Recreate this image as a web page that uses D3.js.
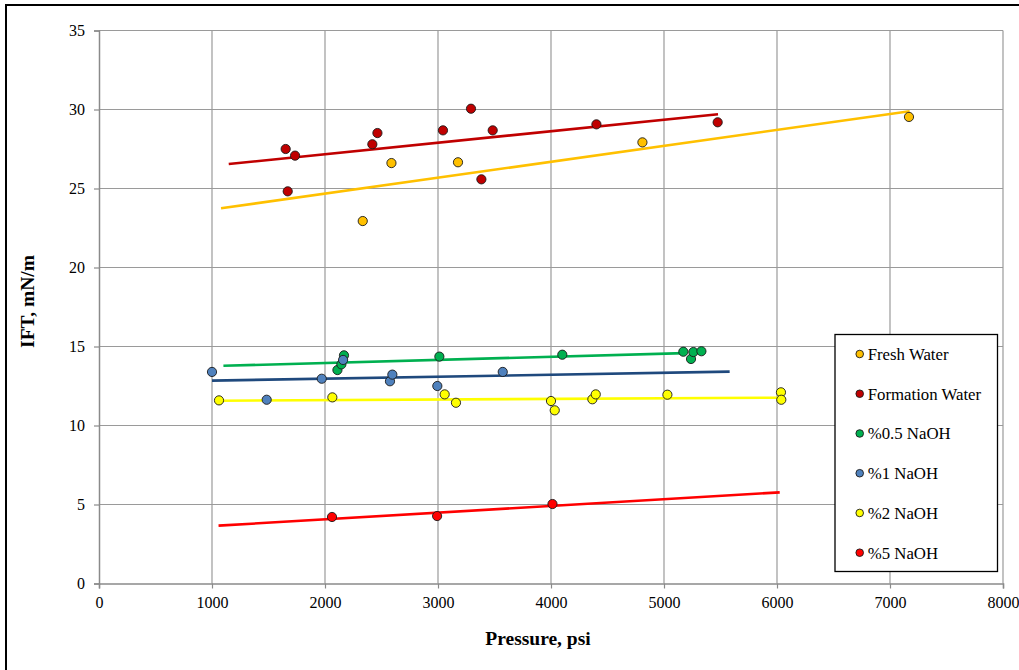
<!DOCTYPE html>
<html>
<head>
<meta charset="utf-8">
<script src="https://cdn.jsdelivr.net/npm/d3@7"></script>
<style>
  html, body { margin: 0; padding: 0; background: #fff; }
  svg { display: block; }
  text { font-family: "Liberation Serif", "Times New Roman", serif; }
</style>
</head>
<body>
<svg id="chart" width="1019" height="670"></svg>
<script>
// Interfacial tension vs pressure for each brine
const seriesNames = ["Fresh Water", "Formation Water", "%0.5 NaOH", "%1 NaOH", "%2 NaOH", "%5 NaOH"];

const freshPsi = [2334, 2588, 3177, 4809, 7168];
const freshIft = [22.94, 26.61, 26.66, 27.92, 29.53];

const formationPsi = [1652, 1670, 1735, 2419, 2464, 3044, 3292, 3384, 3484, 4402, 5475];
const formationIft = [27.50, 24.82, 27.08, 27.80, 28.51, 28.68, 30.05, 25.58, 28.68, 29.06, 29.19];

const naoh05Psi = [2110, 2145, 2168, 3012, 4100, 5171, 5239, 5260, 5331];
const naoh05Ift = [13.51, 13.87, 14.44, 14.36, 14.48, 14.67, 14.21, 14.65, 14.70];

const naoh1Psi = [1000, 1484, 1971, 2160, 2575, 2596, 2994, 3573];
const naoh1Ift = [13.39, 11.63, 12.96, 14.15, 12.80, 13.22, 12.50, 13.39];

const naoh2Psi = [1062, 2065, 3059, 3159, 4000, 4033, 4366, 4396, 5030, 6035, 6038];
const naoh2Ift = [11.59, 11.78, 11.97, 11.44, 11.55, 10.96, 11.66, 11.97, 11.95, 12.10, 11.63];

const naoh5Psi = [2062, 2992, 4013];
const naoh5Ift = [4.21, 4.27, 5.03];

// Linear trend lines: [start, end] pressure and IFT
const trendPsi = [[1080, 7174], [1148, 5478], [1101, 5180], [1000, 5581], [1060, 6040], [1058, 6024]];
const trendIft = [[23.75, 29.89], [26.55, 29.70], [13.78, 14.58], [12.84, 13.41], [11.57, 11.76], [3.66, 5.77]];

const xTicks = [0, 1000, 2000, 3000, 4000, 5000, 6000, 7000, 8000];
const yTicks = [0, 5, 10, 15, 20, 25, 30, 35];

const markerFill = ["#FFC000", "#C00000", "#00B050", "#4F81BD", "#FFFF00", "#FF0000"];
const lineColor  = ["#FFC000", "#C00000", "#00B050", "#1F497D", "#FFFF00", "#FF0000"];

const seriesPsi = [freshPsi, formationPsi, naoh05Psi, naoh1Psi, naoh2Psi, naoh5Psi];
const seriesIft = [freshIft, formationIft, naoh05Ift, naoh1Ift, naoh2Ift, naoh5Ift];

const series = seriesNames.map((name, i) => ({
  name,
  fill: markerFill[i],
  line: lineColor[i],
  points: seriesPsi[i].map((p, j) => ({ x: p, y: seriesIft[i][j] })),
  trend: [{ x: trendPsi[i][0], y: trendIft[i][0] }, { x: trendPsi[i][1], y: trendIft[i][1] }]
}));

const svg = d3.select("#chart");

// outer chart frame
svg.append("rect")
  .attr("x", 6).attr("y", 5)
  .attr("width", 1040).attr("height", 700)
  .attr("fill", "#fff").attr("stroke", "#000").attr("stroke-width", 2);

const plot = { left: 99, right: 1003, top: 30.5, bottom: 583.5 };

const x = d3.scaleLinear().domain([0, 8000]).range([plot.left, plot.right]);
const y = d3.scaleLinear().domain([0, 35]).range([plot.bottom, plot.top]);

// gridlines
const grid = svg.append("g");
grid.selectAll("line.h").data(yTicks.filter(d => d > 0)).join("line")
  .attr("x1", plot.left).attr("x2", plot.right)
  .attr("y1", d => y(d)).attr("y2", d => y(d))
  .attr("stroke", "#9a9a9a").attr("stroke-width", 1.2);
grid.selectAll("line.v").data(xTicks.filter(d => d > 0)).join("line")
  .attr("y1", plot.top).attr("y2", plot.bottom)
  .attr("x1", d => x(d)).attr("x2", d => x(d))
  .attr("stroke", "#9a9a9a").attr("stroke-width", 1.2);

// axes
const xAxis = svg.append("g")
  .attr("transform", `translate(0,${plot.bottom})`)
  .call(d3.axisBottom(x).tickValues(xTicks).tickSize(5).tickPadding(8).tickFormat(d3.format("d")));
const yAxis = svg.append("g")
  .attr("transform", `translate(${plot.left},0)`)
  .call(d3.axisLeft(y).tickValues(yTicks).tickSize(5).tickPadding(9).tickFormat(d3.format("d")));

[xAxis, yAxis].forEach(ax => {
  ax.select(".domain").attr("stroke", "#8a8a8a").attr("stroke-width", 1.5);
  ax.selectAll(".tick line").attr("stroke", "#8a8a8a").attr("stroke-width", 1.2);
  ax.selectAll(".tick text")
    .attr("fill", "#000")
    .style("font-family", "'Liberation Serif', 'Times New Roman', serif")
    .style("font-size", "16px");
});

// trend lines
svg.append("g").selectAll("line").data(series).join("line")
  .attr("x1", d => x(d.trend[0].x)).attr("y1", d => y(d.trend[0].y))
  .attr("x2", d => x(d.trend[1].x)).attr("y2", d => y(d.trend[1].y))
  .attr("stroke", d => d.line).attr("stroke-width", 2.6);

// markers
const pts = svg.append("g");
series.forEach(s => {
  pts.selectAll(null).data(s.points).join("circle")
    .attr("cx", d => x(d.x)).attr("cy", d => y(d.y))
    .attr("r", 4.6)
    .attr("fill", s.fill)
    .attr("stroke", "#1a1a1a").attr("stroke-width", 0.9);
});

// axis titles
svg.append("text")
  .attr("x", 538).attr("y", 645)
  .attr("text-anchor", "middle")
  .style("font-size", "19.5px").style("font-weight", "bold")
  .text("Pressure, psi");

svg.append("text")
  .attr("transform", `translate(34,${301.5}) rotate(-90)`)
  .attr("text-anchor", "middle")
  .style("font-size", "19.5px").style("font-weight", "bold")
  .text("IFT, mN/m");

// legend
const lg = svg.append("g");
lg.append("rect")
  .attr("x", 835).attr("y", 334.5).attr("width", 162.5).attr("height", 237)
  .attr("fill", "#fff").attr("stroke", "#000").attr("stroke-width", 1.3);
const legendY = d3.scalePoint().domain(seriesNames).range([354, 552.7]);
const items = lg.selectAll("g.item").data(series).join("g")
  .attr("transform", d => `translate(859.7,${legendY(d.name)})`);
items.append("circle").attr("r", 3.8)
  .attr("fill", d => d.fill).attr("stroke", "#1a1a1a").attr("stroke-width", 0.9);
items.append("text").attr("x", 8).attr("dy", "0.35em")
  .style("font-size", "16.8px").attr("fill", "#000")
  .text(d => d.name);
</script>
</body>
</html>
